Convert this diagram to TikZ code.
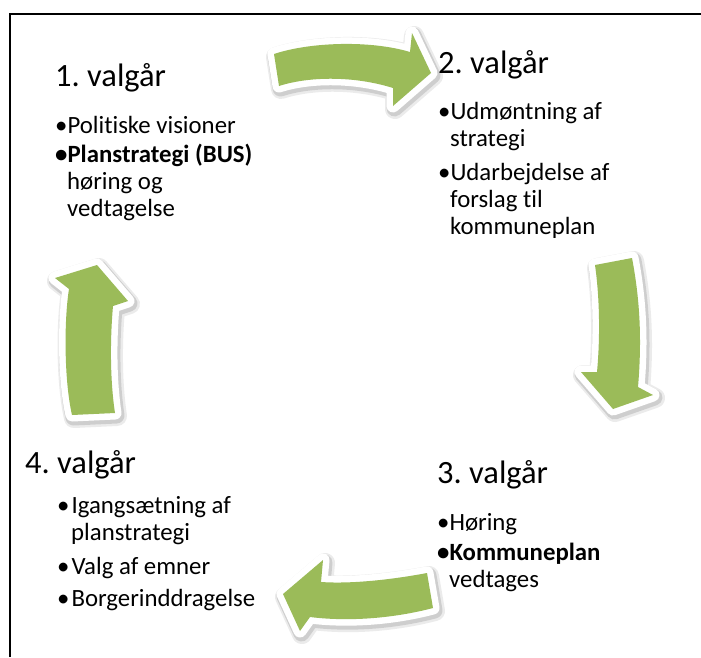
\documentclass[tikz,border=0pt]{standalone}
\usepackage{fontspec}
\setmainfont{Carlito}[Ligatures={NoCommon,NoContextual}]
\definecolor{arrowgreen}{RGB}{155,187,89}
\frenchspacing
\begin{document}
\begin{tikzpicture}[x=1pt,y=-1pt]
\useasboundingbox (0,0) rectangle (701,657);
\tikzset{
  heading/.style={anchor=base west, inner sep=0pt, font=\fontsize{32.5}{36}\selectfont},
  itemline/.style={anchor=base west, inner sep=0pt, font=\fontsize{24.8}{27}\selectfont},
  cyclearrow/.style={fill=arrowgreen,
    preaction={draw=black, opacity=0.08, line width=20pt, line join=round,
      transform canvas={shift={(2pt,-3pt)}}},
    preaction={draw=black, opacity=0.12, line width=16pt, line join=round,
      transform canvas={shift={(1.5pt,-2.5pt)}}},
    preaction={draw=white, line width=13pt, line join=round}},
  frameline/.style={line width=2pt}
}
% frame
\coordinate (fbl) at (10,657);
\coordinate (ftl) at (10,14);
\coordinate (ftr) at (701,14);
\draw[frameline] (fbl) -- (ftl) -- (ftr);

% arrows
\path[cyclearrow] (274,54) .. controls (310,42) and (370,40) .. (410,52) -- (412,33) -- (431,73) -- (393,106) -- (393,88) .. controls (355,76) and (310,76) .. (279,86) -- cycle;
\path[cyclearrow] (595,265) .. controls (600,300) and (600,340) .. (597,372) -- (581,372) -- (613,409) -- (653,395) -- (638,387) .. controls (642,340) and (640,300) .. (632,258) -- cycle;
\path[cyclearrow] (427,573) .. controls (390,580) and (350,584) .. (321,582) -- (323,560) -- (283,594) -- (300,631) -- (310,617) .. controls (350,622) and (395,618) .. (433,608) -- cycle;
\path[cyclearrow] (72,415) .. controls (64,380) and (64,320) .. (69,289) -- (55,278) -- (97,265) -- (128,301) -- (113,306) .. controls (110,340) and (110,380) .. (115,413) -- cycle;

% year 1
\node[heading] (t1) at (55,86) {1. valgår};
\node[itemline] (a1) at (55,133) {•Politiske visioner};
\node[itemline] (a2) at (55,162) {\textbf{•Planstrategi (BUS)}};
\node[itemline] (a3) at (67,189) {høring og};
\node[itemline] (a4) at (67,216) {vedtagelse};
% year 2
\node[heading] (t2) at (438,73) {2. valgår};
\node[itemline] (b1) at (438,119) {•Udmøntning af};
\node[itemline] (b2) at (450,146) {strategi};
\node[itemline] (b3) at (438,180) {•Udarbejdelse af};
\node[itemline] (b4) at (450,207) {forslag til};
\node[itemline] (b5) at (450,234) {kommuneplan};
% year 3
\node[heading] (t3) at (437,483) {3. valgår};
\node[itemline] (c1) at (437,530) {•Høring};
\node[itemline] (c2) at (437,560) {\textbf{•Kommuneplan}};
\node[itemline] (c3) at (449,587) {vedtages};
% year 4
\node[heading] (t4) at (25,473) {4. valgår};
\node[itemline] (d1) at (57,513) {•\hspace{2pt}Igangsætning af};
\node[itemline] (d2) at (71,540) {planstrategi};
\node[itemline] (d3) at (57,574) {•\hspace{2pt}Valg af emner};
\node[itemline] (d4) at (57,606) {•\hspace{2pt}Borgerinddragelse};
\end{tikzpicture}
\end{document}
